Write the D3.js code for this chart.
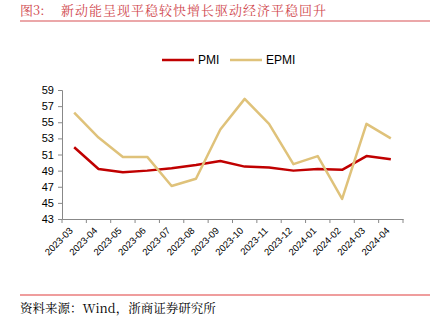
<!DOCTYPE html>
<html><head><meta charset="utf-8">
<script src="https://cdn.jsdelivr.net/npm/d3@7"></script>
<style>body{margin:0;background:#fff;}svg{display:block;}</style>
</head><body>
<script>
const categories = ["2023-03","2023-04","2023-05","2023-06","2023-07","2023-08","2023-09","2023-10","2023-11","2023-12","2024-01","2024-02","2024-03","2024-04"];
const pmi  = [51.9,49.2,48.8,49.0,49.3,49.7,50.2,49.5,49.4,49.0,49.2,49.1,50.8,50.4];
const epmi = [56.2,53.1,50.7,50.7,47.1,48.0,54.1,57.9,54.8,49.8,50.8,45.5,54.8,53.0];
const yTicks = [43,45,47,49,51,53,55,57,59];
const seriesNames = ["PMI","EPMI"];
const colors = ["#c00000","#dfc27a"];

const W=441,H=334;
const svg=d3.select("body").append("svg").attr("width",W).attr("height",H);

const tfont="'Noto Serif CJK SC','Noto Sans CJK SC', serif";
svg.append("text").attr("x",20).attr("y",15).attr("fill","#d0474d")
  .style("font-family",tfont).style("font-size","13px")
  .text("图3:");
svg.append("text").attr("x",61).attr("y",15).attr("fill","#d0474d")
  .style("font-family",tfont).style("font-size","13px").style("letter-spacing","1px")
  .text("新动能呈现平稳较快增长驱动经济平稳回升");
svg.append("line").attr("x1",20).attr("x2",430).attr("y1",21).attr("y2",21)
  .attr("stroke","#e58a8c").attr("stroke-width",1.5);

const x=d3.scaleBand().domain(categories).range([62,403]);
const y=d3.scaleLinear().domain([43,59]).range([219,90]);

const gx=svg.append("g").attr("transform","translate(0,219)")
  .call(d3.axisBottom(x).tickSize(0).tickFormat(""));
gx.select(".domain").attr("stroke","#888");
const edges=categories.map(c=>x(c)).concat([x.range()[1]]);
svg.append("g").selectAll("line").data(edges).join("line")
  .attr("x1",d=>d).attr("x2",d=>d).attr("y1",219).attr("y2",223).attr("stroke","#888");
svg.append("g").selectAll("text").data(categories).join("text")
  .attr("transform",d=>`translate(${x(d)+x.bandwidth()/2-3},${229}) rotate(-45)`)
  .attr("text-anchor","end").attr("dy","0.35em")
  .style("font-family","Arial, 'Liberation Sans'").style("font-size","9.5px").attr("fill","#000")
  .text(d=>d);

const gy=svg.append("g").attr("transform","translate(62,0)")
  .call(d3.axisLeft(y).tickValues(yTicks).tickSize(4).tickPadding(4));
gy.select(".domain").attr("stroke","#888");
gy.selectAll(".tick line").attr("stroke","#888");
gy.selectAll(".tick text").style("font-family","Arial, 'Liberation Sans'").style("font-size","11px").attr("fill","#000");

const line=d3.line().x((d,i)=>x(categories[i])+x.bandwidth()/2).y(d=>y(d));
[pmi,epmi].forEach((s,k)=>{
  svg.append("path").datum(s).attr("d",line).attr("fill","none")
    .attr("stroke",colors[k]).attr("stroke-width",2.5).attr("stroke-linejoin","round");
});

const lg=svg.append("g");
const lx=[162,230];
seriesNames.forEach((n,k)=>{
  lg.append("line").attr("x1",lx[k]).attr("x2",lx[k]+32).attr("y1",60).attr("y2",60)
    .attr("stroke",colors[k]).attr("stroke-width",2.5);
  lg.append("text").attr("x",lx[k]+36).attr("y",60).attr("dy","0.35em")
    .style("font-family","Arial, 'Liberation Sans'").style("font-size","12px").attr("fill","#000").text(n);
});

svg.append("line").attr("x1",20).attr("x2",430).attr("y1",295).attr("y2",295)
  .attr("stroke","#e03c3c").attr("stroke-width",1.2);
svg.append("text").attr("x",20).attr("y",313)
  .style("font-family",tfont).style("font-size","12.5px").attr("fill","#000")
  .text("资料来源：Wind，浙商证券研究所");
</script>
</body></html>
